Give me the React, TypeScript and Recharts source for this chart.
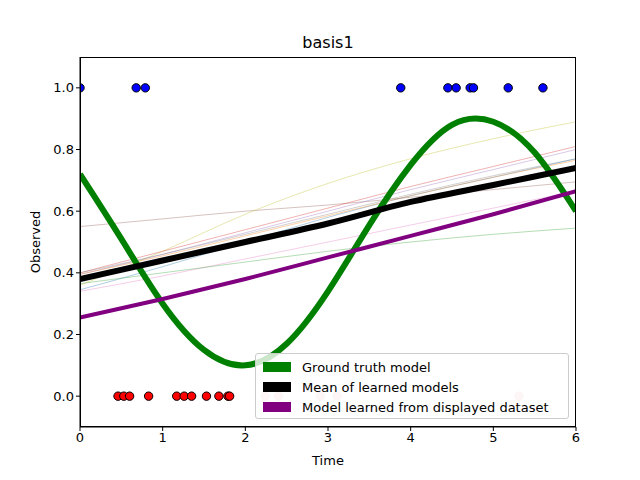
import { ComposedChart, Line, Scatter, XAxis, YAxis } from "recharts";

const xTicks = [0, 1, 2, 3, 4, 5, 6];
const yTicks = [0, 0.2, 0.4, 0.6, 0.8, 1.0];

const truthT = [0, 0.5, 1, 1.5, 2, 2.5, 3, 3.5, 4, 4.5, 5, 5.5, 6];
const truthV = [0.72, 0.51, 0.3, 0.15, 0.1, 0.17, 0.34, 0.555, 0.75, 0.88, 0.89, 0.79, 0.6];

const curveT = [0, 1, 2, 3, 4, 5, 6];
const meanV = [0.38, 0.44, 0.5, 0.56, 0.63, 0.685, 0.74];
const displayedV = [0.255, 0.315, 0.38, 0.45, 0.52, 0.59, 0.665];

const thinColors = ["#8c564b", "#bcbd22", "#d62728", "#9467bd", "#1f77b4", "#ff7f0e", "#7f7f7f", "#e377c2", "#2ca02c"];
const thinV = [
  [0.55, 0.575, 0.6, 0.62, 0.645, 0.67, 0.695],
  [0.36, 0.47, 0.59, 0.69, 0.77, 0.835, 0.89],
  [0.4, 0.47, 0.54, 0.61, 0.68, 0.745, 0.81],
  [0.395, 0.46, 0.53, 0.6, 0.67, 0.735, 0.8],
  [0.345, 0.42, 0.5, 0.58, 0.65, 0.71, 0.77],
  [0.395, 0.455, 0.52, 0.585, 0.65, 0.71, 0.765],
  [0.4, 0.46, 0.525, 0.59, 0.655, 0.715, 0.77],
  [0.34, 0.39, 0.445, 0.5, 0.555, 0.61, 0.665],
  [0.365, 0.4, 0.435, 0.47, 0.5, 0.525, 0.545],
];

const onesT = [0, 0.68, 0.79, 3.88, 4.45, 4.55, 4.72, 4.76, 5.18, 5.6];
const zerosT = [0.46, 0.53, 0.6, 0.83, 1.17, 1.26, 1.35, 1.53, 1.68, 1.79, 1.81];
const fadedT = [2.24, 2.4, 2.91, 3.11, 5.31];

const toRows = (ts: number[], vs: number[]) => ts.map((t, i) => ({ t, v: vs[i] }));

const dot = (fill: string, stroke: string) => (p: any) => (
  <circle cx={p.cx} cy={p.cy} r={4.2} fill={fill} stroke={stroke} strokeWidth={1} />
);

const font = "DejaVu Sans, sans-serif";

export default function App() {
  return (
    <div style={{ position: "absolute", left: 0, top: 0, width: 640, height: 480, background: "#fff", fontFamily: font }}>
      <div style={{ position: "absolute", top: 33, width: 656, textAlign: "center", fontSize: 16 }}>basis1</div>
      <div style={{ position: "absolute", top: 453, left: 80, width: 496, textAlign: "center", fontSize: 13 }}>Time</div>
      <div style={{ position: "absolute", left: 35, top: 242, transform: "translate(-50%,-50%) rotate(-90deg)", fontSize: 13 }}>Observed</div>
      <ComposedChart width={640} height={480} margin={{ top: 57, right: 64, bottom: 0, left: 0 }}>
        <XAxis type="number" dataKey="t" domain={[0, 6]} ticks={xTicks} allowDataOverflow
          stroke="#000" tick={{ fill: "#000", fontSize: 13, fontFamily: font }} tickSize={4} height={53} />
        <YAxis type="number" dataKey="v" domain={[-0.1, 1.1]} ticks={yTicks} allowDataOverflow width={80}
          tickFormatter={(v: number) => v.toFixed(1)}
          stroke="#000" tick={{ fill: "#000", fontSize: 13, fontFamily: font }} tickSize={4} />
        {thinV.map((vs, i) => (
          <Line key={i} data={toRows(curveT, vs)} dataKey="v" type="monotone" stroke={thinColors[i]}
            strokeOpacity={0.6} strokeWidth={0.6} dot={false} isAnimationActive={false} />
        ))}
        <Line data={toRows(truthT, truthV)} dataKey="v" type="natural" stroke="#008000" strokeWidth={6} dot={false} isAnimationActive={false} />
        <Line data={toRows(curveT, meanV)} dataKey="v" type="monotone" stroke="#000" strokeWidth={6} dot={false} isAnimationActive={false} />
        <Line data={toRows(curveT, displayedV)} dataKey="v" type="monotone" stroke="#800080" strokeWidth={4} dot={false} isAnimationActive={false} />
        <Scatter data={onesT.map((t) => ({ t, v: 1 }))} dataKey="v" shape={dot("#0000ff", "#000")} isAnimationActive={false} />
        <Scatter data={zerosT.map((t) => ({ t, v: 0 }))} dataKey="v" shape={dot("#ff0000", "#000")} isAnimationActive={false} />
        <Scatter data={fadedT.map((t) => ({ t, v: 0 }))} dataKey="v" shape={dot("#f9d3d3", "#e8c8c8")} isAnimationActive={false} />
      </ComposedChart>
      <div style={{ position: "absolute", left: 80, top: 57, width: 496, height: 370, border: "1px solid #000", boxSizing: "border-box", pointerEvents: "none" }} />
      <div style={{ position: "absolute", left: 255, top: 353, width: 314, height: 66, background: "rgba(255,255,255,0.8)", border: "1px solid #ccc", borderRadius: 3, boxSizing: "border-box", fontSize: 13, padding: "3px 0 0 7px" }}>
        {[["#008000", "Ground truth model"], ["#000", "Mean of learned models"], ["#800080", "Model learned from displayed dataset"]].map(([c, l]) => (
          <div key={l} style={{ display: "flex", alignItems: "center", height: 20 }}>
            <span style={{ width: 28, height: 10, background: c, marginRight: 11 }} />
            {l}
          </div>
        ))}
      </div>
    </div>
  );
}
